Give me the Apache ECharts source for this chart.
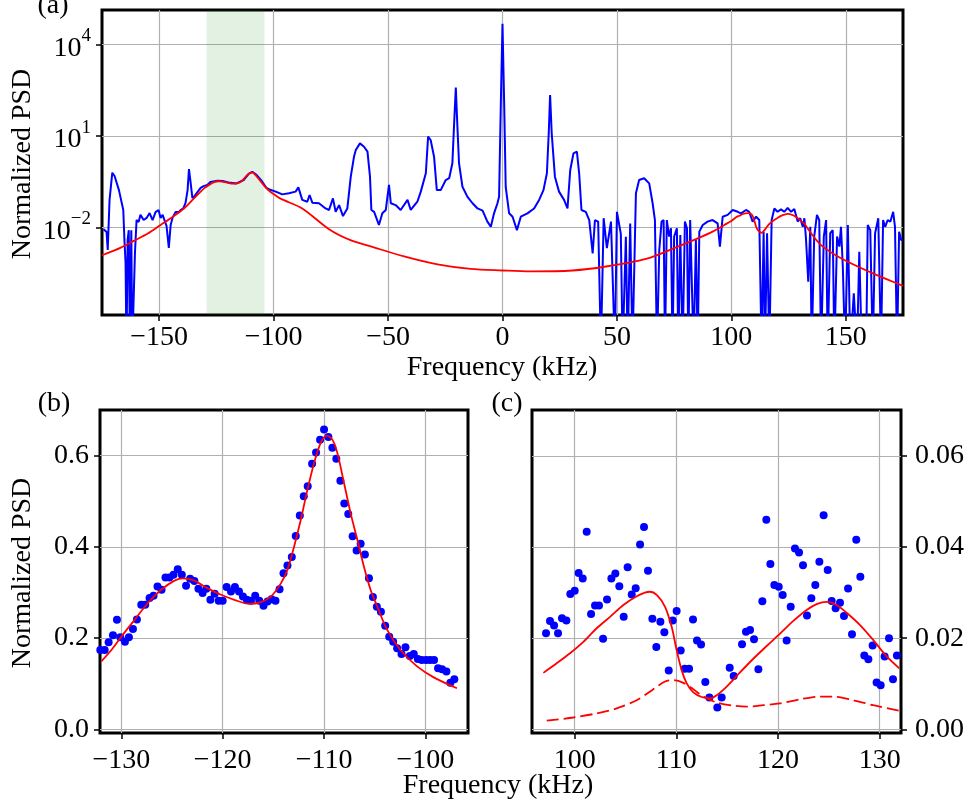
<!DOCTYPE html>
<html>
<head>
<meta charset="utf-8">
<script src="https://cdn.jsdelivr.net/npm/echarts@6/dist/echarts.min.js"></script>
<style>
  html, body { margin: 0; padding: 0; background: #fff; }
  #chart { width: 969px; height: 811px; }
</style>
</head>
<body>
<div id="chart"></div>
<script>
// (a) full spectrum: [frequency kHz, log10 normalized PSD]; -6 = dropout below the axis
const spectrumA = [
  [-174.3, -2.05], [-173.9, -2.08], [-173.0, -2.14], [-172.5, -2.73], [-171.7, -1.09],
  [-170.5, -0.20], [-169.5, -0.31], [-167.6, -0.77], [-165.7, -1.42], [-165.2, -2.40],
  [-164.7, -3.16], [-164.3, -6], [-163.8, -2.40], [-163.3, -2.08], [-162.8, -6],
  [-162.2, -2.08], [-161.8, -6], [-161.1, -6], [-160.6, -2.83], [-159.9, -1.75],
  [-159.0, -1.81], [-158.2, -1.58], [-156.8, -1.75], [-155.5, -1.68], [-154.2, -1.52],
  [-152.9, -1.75], [-151.6, -1.49], [-150.3, -1.42], [-149.4, -1.68], [-148.5, -1.58],
  [-147.7, -1.75], [-146.8, -1.94], [-145.8, -2.66], [-145.0, -1.91], [-144.2, -1.68],
  [-142.9, -1.49], [-141.5, -1.49], [-140.6, -1.42], [-139.4, -1.36], [-138.5, -1.19],
  [-137.6, -0.77], [-137.0, -0.08], [-136.4, -0.44], [-135.5, -1.03], [-134.5, -0.96],
  [-133.2, -0.83], [-131.9, -0.70], [-130.6, -0.64], [-129.0, -0.60], [-127.5, -0.50],
  [-124.6, -0.46], [-122.3, -0.47], [-119.7, -0.52], [-116.2, -0.55], [-113.1, -0.44],
  [-110.9, -0.24], [-109.3, -0.17], [-107.4, -0.28], [-105.2, -0.47], [-103.1, -0.70],
  [-102.1, -0.74], [-99.1, -0.82], [-96.2, -0.91], [-93.3, -0.87], [-90.4, -0.82],
  [-89.2, -0.68], [-87.5, -1.09], [-85.3, -1.15], [-84.3, -0.93], [-83.1, -1.18],
  [-80.2, -1.20], [-77.3, -1.37], [-75.8, -1.42], [-74.1, -1.04], [-72.9, -1.48],
  [-71.4, -1.26], [-69.7, -1.62], [-67.8, -1.37], [-66.3, -0.33], [-64.9, 0.32],
  [-64.1, 0.54], [-62.3, 0.76], [-60.5, 0.65], [-59.0, 0.49], [-57.9, -0.33],
  [-57.3, -1.42], [-56.1, -1.48], [-54.0, -1.91], [-52.5, -1.53], [-51.0, -1.42],
  [-49.6, -0.60], [-48.8, -1.20], [-46.7, -1.26], [-44.5, -1.42], [-41.5, -1.09],
  [-40.1, -1.42], [-37.2, -1.15], [-35.7, -0.82], [-33.5, -0.22], [-32.5, 0.98],
  [-31.4, 0.87], [-29.9, 0.32], [-28.7, -0.77], [-27.0, -0.77], [-24.8, -0.44],
  [-23.3, -0.38], [-21.9, 0.11], [-21.2, 1.30], [-20.4, 2.59], [-19.7, 1.30],
  [-19.0, 0.11], [-17.5, -0.66], [-15.3, -0.99], [-13.1, -1.20], [-10.9, -1.37],
  [-8.7, -1.44], [-6.6, -1.80], [-5.1, -1.97], [-3.7, -1.53], [-2.2, -1.20],
  [-1.5, -0.99], [-0.7, 2.18], [0, 4.67], [0.7, 2.18], [1.4, -0.66],
  [2.9, -1.53], [4.4, -1.64], [6.3, -2.08], [8.0, -1.64], [10.9, -1.53],
  [13.8, -1.37], [16.0, -1.09], [17.9, -0.77], [19.4, -0.22], [20.2, 1.09],
  [20.8, 2.34], [21.5, 1.09], [22.9, -0.33], [24.7, -0.82], [26.9, -1.09],
  [28.4, -1.37], [29.6, -0.11], [31.0, 0.43], [32.5, 0.49], [33.5, -0.22],
  [34.5, -1.42], [36.4, -1.48], [37.9, -1.75], [39.4, -2.84], [40.4, -1.75],
  [41.8, -1.80], [43.0, -6], [44.2, -1.69], [45.6, -2.67], [47.4, -1.80],
  [49.1, -6], [50.0, -1.48], [51.7, -2.20], [52.5, -6], [53.9, -2.30],
  [54.7, -6], [55.8, -1.86], [56.8, -6], [58.3, -0.87], [59.7, -0.44],
  [60.5, -0.45], [61.9, -0.38], [62.7, -0.38], [64.1, -0.55], [65.6, -1.20],
  [66.6, -1.75], [67.5, -6], [68.5, -2.73], [69.5, -1.80], [70.4, -1.75],
  [71.0, -6], [71.8, -1.75], [72.8, -2.29], [73.6, -2.02], [74.3, -6],
  [75.0, -2.29], [76.2, -2.02], [76.8, -6], [77.7, -2.24], [78.7, -6],
  [79.7, -1.80], [80.6, -2.02], [81.2, -6], [82.0, -1.75], [82.6, -1.73],
  [83.5, -6], [84.5, -2.40], [85.3, -6], [86.0, -2.13], [87.5, -1.91],
  [89.6, -1.80], [91.8, -1.75], [94.0, -1.86], [95.0, -2.62], [96.2, -1.64],
  [98.4, -1.58], [100.6, -1.42], [102.8, -1.48], [104.2, -1.53], [106.4, -1.42],
  [107.8, -1.48], [109.3, -1.80], [110.8, -1.64], [112.2, -1.75], [113.2, -6],
  [114.1, -2.13], [114.7, -6], [115.6, -2.18], [116.6, -6], [117.6, -1.75],
  [118.8, -1.37], [120.2, -1.48], [121.7, -1.40], [123.1, -1.48], [124.6, -1.35],
  [126.1, -1.48], [127.5, -1.39], [129.0, -1.80], [130.1, -1.69], [131.2, -1.97],
  [131.9, -1.69], [132.6, -2.35], [133.6, -3.77], [134.5, -1.97], [135.1, -6],
  [136.2, -2.29], [137.4, -1.58], [138.4, -1.75], [139.2, -6], [140.4, -2.29],
  [141.4, -1.75], [142.1, -6], [143.2, -2.18], [144.3, -2.08], [145.0, -6],
  [146.2, -2.29], [147.2, -2.62], [147.9, -1.97], [148.7, -3.28], [149.7, -6],
  [150.9, -1.91], [152.0, -6], [153.5, -4.15], [154.9, -6], [155.9, -2.79],
  [157.0, -6], [158.9, -6], [159.6, -1.91], [160.7, -2.08], [161.8, -6],
  [162.8, -2.18], [164.2, -1.69], [165.4, -6], [166.3, -1.75], [167.2, -1.97],
  [168.3, -1.75], [169.5, -1.80], [170.7, -1.48], [171.5, -1.97], [172.4, -6],
  [173.3, -2.13], [174.2, -2.40], [175.0, -2.40],
];

// (a) fit: [frequency kHz, log10 normalized PSD]
const fitA = [
  [-175, -2.90], [-173.9, -2.87], [-167, -2.66], [-161.1, -2.43], [-155, -2.19],
  [-149.4, -1.91], [-145, -1.69], [-139.2, -1.37], [-134.8, -1.04], [-132, -0.83],
  [-130, -0.69], [-128, -0.59], [-126, -0.51], [-124, -0.48], [-122, -0.50],
  [-120, -0.53], [-118, -0.56], [-116, -0.55], [-114, -0.48], [-113, -0.40],
  [-112, -0.31], [-111, -0.24], [-110, -0.20], [-109.5, -0.19], [-109, -0.20],
  [-108, -0.27], [-107, -0.36], [-106, -0.45], [-104, -0.64], [-102, -0.79],
  [-100, -0.90], [-97, -1.05], [-87.5, -1.37], [-75.8, -2.05], [-66.7, -2.40],
  [-57.6, -2.61], [-43, -2.94], [-28.4, -3.20], [-13.9, -3.35], [0, -3.40],
  [12.4, -3.43], [30.6, -3.40], [45.2, -3.27], [62.7, -3.02], [75, -2.67],
  [85.3, -2.35], [92, -2.12], [96.9, -1.91], [100, -1.78], [102.2, -1.65],
  [103.5, -1.61], [104.8, -1.56], [106.1, -1.53], [107.4, -1.52], [108.1, -1.53],
  [108.9, -1.57], [109.5, -1.65], [110.0, -1.76], [110.5, -1.89], [111.0, -2.00],
  [111.7, -2.09], [112.5, -2.14], [113.3, -2.17], [114.0, -2.12], [115.0, -2.03],
  [116.3, -1.90], [117.6, -1.81], [118.9, -1.74], [120.2, -1.68], [121.5, -1.62],
  [122.8, -1.58], [124.8, -1.55], [126.8, -1.59], [128.1, -1.64], [129.4, -1.71],
  [130.7, -1.80], [131.9, -1.87], [135, -2.20], [139.2, -2.57], [147.9, -3.00],
  [161.1, -3.47], [174.2, -3.88], [175, -3.90],
];

// shaded window in (a), kHz
const bandA = [-129.3, -104.0];

// (b) data points and fit: [frequency kHz, normalized PSD]
const pointsB = [
  [-132.07, 0.174], [-131.64, 0.174], [-131.25, 0.191], [-130.82, 0.206], [-130.43, 0.240],
  [-130.10, 0.202], [-129.64, 0.192], [-129.25, 0.202], [-128.85, 0.220], [-128.46, 0.241],
  [-128.03, 0.273], [-127.64, 0.273], [-127.21, 0.288], [-126.82, 0.293], [-126.43, 0.313],
  [-126.03, 0.306], [-125.64, 0.333], [-125.25, 0.333], [-124.85, 0.339], [-124.43, 0.351],
  [-124.03, 0.339], [-123.61, 0.315], [-123.21, 0.330], [-122.79, 0.325], [-122.39, 0.308],
  [-121.98, 0.299], [-121.61, 0.308], [-121.21, 0.284], [-120.79, 0.297], [-120.39, 0.282],
  [-120.00, 0.282], [-119.61, 0.312], [-119.18, 0.302], [-118.79, 0.312], [-118.39, 0.302],
  [-118.00, 0.291], [-117.61, 0.284], [-117.21, 0.282], [-116.79, 0.293], [-116.39, 0.282],
  [-115.97, 0.271], [-115.57, 0.280], [-115.18, 0.285], [-114.79, 0.282], [-114.39, 0.307],
  [-114.00, 0.342], [-113.61, 0.359], [-113.18, 0.378], [-112.79, 0.424], [-112.39, 0.469],
  [-112.00, 0.511], [-111.61, 0.533], [-111.18, 0.582], [-110.79, 0.607], [-110.39, 0.635],
  [-110.00, 0.657], [-109.57, 0.641], [-109.18, 0.617], [-108.79, 0.593], [-108.39, 0.545],
  [-108.00, 0.495], [-107.61, 0.472], [-107.18, 0.423], [-106.79, 0.392], [-106.39, 0.407],
  [-105.97, 0.383], [-105.57, 0.331], [-105.18, 0.290], [-104.79, 0.269], [-104.39, 0.258],
  [-103.97, 0.227], [-103.57, 0.203], [-103.18, 0.192], [-102.79, 0.178], [-102.36, 0.165],
  [-101.97, 0.180], [-101.54, 0.161], [-101.15, 0.165], [-100.75, 0.154], [-100.36, 0.152],
  [-99.93, 0.152], [-99.54, 0.152], [-99.15, 0.152], [-98.75, 0.134], [-98.36, 0.132],
  [-97.93, 0.127], [-97.54, 0.102], [-97.15, 0.110],
];
const fitB = [
  [-131.97, 0.149], [-130.98, 0.174], [-130.00, 0.203], [-128.69, 0.240], [-127.38, 0.277],
  [-126.07, 0.306], [-124.75, 0.326], [-123.93, 0.331], [-122.79, 0.326], [-121.48, 0.309],
  [-120.16, 0.295], [-118.85, 0.284], [-117.38, 0.275], [-116.23, 0.279], [-115.25, 0.291],
  [-114.26, 0.320], [-113.61, 0.350], [-112.95, 0.401], [-112.30, 0.459], [-111.64, 0.525],
  [-110.98, 0.584], [-110.33, 0.628], [-109.74, 0.644], [-109.18, 0.635], [-108.69, 0.606],
  [-108.03, 0.540], [-107.38, 0.474], [-106.72, 0.416], [-106.07, 0.357], [-105.41, 0.306],
  [-104.75, 0.269], [-103.77, 0.218], [-102.46, 0.174], [-100.82, 0.138], [-99.18, 0.114],
  [-96.89, 0.090],
];

// (c) data points, total fit and single component: [frequency kHz, normalized PSD]
const pointsC = [
  [97.18, 0.0211], [97.57, 0.0238], [97.97, 0.0228], [98.36, 0.0211], [98.75, 0.0244],
  [99.18, 0.0239], [99.57, 0.0297], [100.00, 0.0304], [100.39, 0.0343], [100.79, 0.0331],
  [101.18, 0.0434], [101.61, 0.0253], [102.00, 0.0272], [102.39, 0.0272], [102.79, 0.0199],
  [103.18, 0.0285], [103.61, 0.0331], [104.00, 0.0342], [104.39, 0.0314], [104.82, 0.0247],
  [105.21, 0.0356], [105.61, 0.0296], [106.00, 0.0310], [106.43, 0.0406], [106.82, 0.0444],
  [107.21, 0.0348], [107.64, 0.0243], [108.03, 0.0181], [108.43, 0.0236], [108.82, 0.0213],
  [109.25, 0.0129], [109.64, 0.0239], [110.03, 0.0260], [110.43, 0.0173], [110.82, 0.0133],
  [111.25, 0.0133], [111.64, 0.0241], [112.03, 0.0195], [112.43, 0.0186], [112.85, 0.0104],
  [113.25, 0.0070], [114.03, 0.0048], [114.46, 0.0070], [115.25, 0.0135], [115.64, 0.0117],
  [116.46, 0.0187], [116.85, 0.0214], [117.25, 0.0218], [117.64, 0.0198], [118.07, 0.0132],
  [118.46, 0.0281], [118.85, 0.0460], [119.25, 0.0363], [119.64, 0.0317], [120.07, 0.0313],
  [120.46, 0.0295], [120.85, 0.0195], [121.25, 0.0269], [121.67, 0.0397], [122.07, 0.0388],
  [122.46, 0.0360], [122.85, 0.0250], [123.28, 0.0288], [123.67, 0.0317], [124.07, 0.0368],
  [124.49, 0.0470], [124.89, 0.0350], [125.28, 0.0282], [125.67, 0.0266], [126.10, 0.0278],
  [126.49, 0.0249], [126.89, 0.0309], [127.28, 0.0209], [127.70, 0.0416], [128.10, 0.0335],
  [128.49, 0.0162], [128.89, 0.0154], [129.31, 0.0184], [129.70, 0.0103], [130.10, 0.0097],
  [130.49, 0.0160], [130.92, 0.0200], [131.31, 0.0110], [131.70, 0.0162],
];
const fitC = [
  [96.92, 0.0124], [98.23, 0.0145], [99.54, 0.0167], [100.85, 0.0192], [102.16, 0.0222],
  [103.48, 0.0247], [104.79, 0.0273], [106.10, 0.0292], [106.90, 0.0300], [107.41, 0.0302],
  [108.07, 0.0295], [108.89, 0.0269], [109.54, 0.0225], [110.03, 0.0174], [110.52, 0.0130],
  [111.02, 0.0101], [111.67, 0.0081], [112.49, 0.0071], [113.31, 0.0068], [113.97, 0.0075],
  [114.95, 0.0094], [116.26, 0.0125], [117.57, 0.0155], [118.89, 0.0183], [120.20, 0.0210],
  [121.51, 0.0238], [122.82, 0.0262], [123.80, 0.0275], [124.79, 0.0280], [125.77, 0.0273],
  [126.75, 0.0256], [128.07, 0.0229], [129.38, 0.0196], [130.69, 0.0160], [131.93, 0.0134],
];
const partC = [
  [97.25, 0.0019], [99.87, 0.0026], [102.16, 0.0035], [104.13, 0.0046], [106.10, 0.0064],
  [107.74, 0.0088], [108.89, 0.0105], [109.70, 0.0108], [110.69, 0.0102], [111.67, 0.0088],
  [112.66, 0.0072], [113.97, 0.0059], [115.61, 0.0052], [116.92, 0.0050], [118.56, 0.0053],
  [120.20, 0.0057], [122.16, 0.0066], [124.13, 0.0072], [125.44, 0.0072], [127.41, 0.0064],
  [129.38, 0.0053], [131.93, 0.0041],
];

// tick positions
const ticksXA = [-150, -100, -50, 0, 50, 100, 150];
const ticksYA = [-2, 1, 4];
const ticksXB = [-130, -120, -110, -100];
const ticksYB = [0, 0.2, 0.4, 0.6];
const ticksXC = [100, 110, 120, 130];
const ticksYC = [0, 0.02, 0.04, 0.06];

const FONT = '"Liberation Serif", "Times New Roman", serif';
const BLUE = '#0000ff';
const RED = '#ff0000';

const chart = echarts.init(document.getElementById('chart'));

function minus(s) {
  return String(s).replace('-', '\u2212');
}

function makeAxis(gridIndex, min, max, ticks, formatter, labelExtra, extra) {
  return Object.assign({
    type: 'value',
    gridIndex,
    min,
    max,
    axisLine: { show: false, onZero: false },
    axisTick: {
      show: true,
      inside: false,
      length: 6,
      customValues: ticks,
      lineStyle: { color: '#000', width: 1.5 },
    },
    axisLabel: Object.assign({
      customValues: ticks,
      formatter,
      fontFamily: FONT,
      fontSize: 28,
      color: '#000',
      margin: 9,
      hideOverlap: false,
    }, labelExtra || {}),
    splitLine: { show: true, lineStyle: { color: '#b0b0b0', width: 1.2 } },
  }, extra || {});
}

const gridStyle = { show: true, borderColor: '#000', borderWidth: 3, backgroundColor: 'transparent' };

function label(text, x, y, rotation) {
  return {
    type: 'text',
    x,
    y,
    rotation: rotation || 0,
    style: {
      text,
      fontFamily: FONT,
      fontSize: 28,
      fill: '#000',
      textAlign: 'center',
      textVerticalAlign: 'middle',
    },
  };
}

// log-axis labels for (a): 10 with a raised exponent
const logLabel = {
  margin: 11,
  rich: {
    b: { fontFamily: FONT, fontSize: 28, lineHeight: 36, verticalAlign: 'bottom', color: '#000' },
    s: { fontFamily: FONT, fontSize: 19, lineHeight: 19, verticalAlign: 'top', color: '#000' },
  },
};

chart.setOption({
  animation: false,
  backgroundColor: '#fff',
  grid: [
    Object.assign({ left: 102, top: 10, width: 801, height: 305 }, gridStyle),
    Object.assign({ left: 100, top: 410, width: 368, height: 323 }, gridStyle),
    Object.assign({ left: 532, top: 410, width: 369, height: 323 }, gridStyle),
  ],
  xAxis: [
    makeAxis(0, -175, 175, ticksXA, (v) => minus(v)),
    makeAxis(1, -132.1, -95.8, ticksXB, (v) => minus(v), { margin: 14 }),
    makeAxis(2, 95.8, 132.1, ticksXC, (v) => String(v), { margin: 14 }),
  ],
  yAxis: [
    makeAxis(0, -4.857, 5.124, ticksYA, (v) => '{b|10}{s|' + minus(Math.round(v)) + '}', logLabel),
    makeAxis(1, -0.008, 0.70, ticksYB, (v) => v.toFixed(1), { margin: 11 }),
    makeAxis(2, -0.0008, 0.0701, ticksYC, (v) => v.toFixed(2), { margin: 14 }, { position: 'right' }),
  ],
  graphic: [
    label('(a)', 53, 6),
    label('(b)', 54, 404),
    label('(c)', 507, 404),
    label('Normalized PSD', 23, 164, Math.PI / 2),
    label('Normalized PSD', 23, 573, Math.PI / 2),
    label('Frequency (kHz)', 502, 368),
    label('Frequency (kHz)', 498, 786),
  ],
  series: [
    {
      type: 'line',
      xAxisIndex: 0,
      yAxisIndex: 0,
      data: spectrumA,
      showSymbol: false,
      clip: true,
      lineStyle: { color: BLUE, width: 2 },
      z: 3,
      markArea: {
        silent: true,
        itemStyle: { color: 'rgba(0,128,0,0.11)' },
        data: [[{ xAxis: bandA[0] }, { xAxis: bandA[1] }]],
      },
    },
    {
      type: 'line',
      xAxisIndex: 0,
      yAxisIndex: 0,
      data: fitA,
      showSymbol: false,
      smooth: 0.3,
      lineStyle: { color: RED, width: 1.8 },
      z: 4,
    },
    {
      type: 'scatter',
      xAxisIndex: 1,
      yAxisIndex: 1,
      data: pointsB,
      symbolSize: 8,
      itemStyle: { color: BLUE, opacity: 1 },
      z: 3,
    },
    {
      type: 'line',
      xAxisIndex: 1,
      yAxisIndex: 1,
      data: fitB,
      showSymbol: false,
      smooth: 0.3,
      lineStyle: { color: RED, width: 1.8 },
      z: 4,
    },
    {
      type: 'scatter',
      xAxisIndex: 2,
      yAxisIndex: 2,
      data: pointsC,
      symbolSize: 8,
      itemStyle: { color: BLUE, opacity: 1 },
      z: 3,
    },
    {
      type: 'line',
      xAxisIndex: 2,
      yAxisIndex: 2,
      data: fitC,
      showSymbol: false,
      smooth: 0.3,
      lineStyle: { color: RED, width: 1.8 },
      z: 4,
    },
    {
      type: 'line',
      xAxisIndex: 2,
      yAxisIndex: 2,
      data: partC,
      showSymbol: false,
      smooth: 0.3,
      lineStyle: { color: RED, width: 1.8, type: [12, 5] },
      z: 4,
    },
  ],
});

window.addEventListener('resize', () => chart.resize());
</script>
</body>
</html>
